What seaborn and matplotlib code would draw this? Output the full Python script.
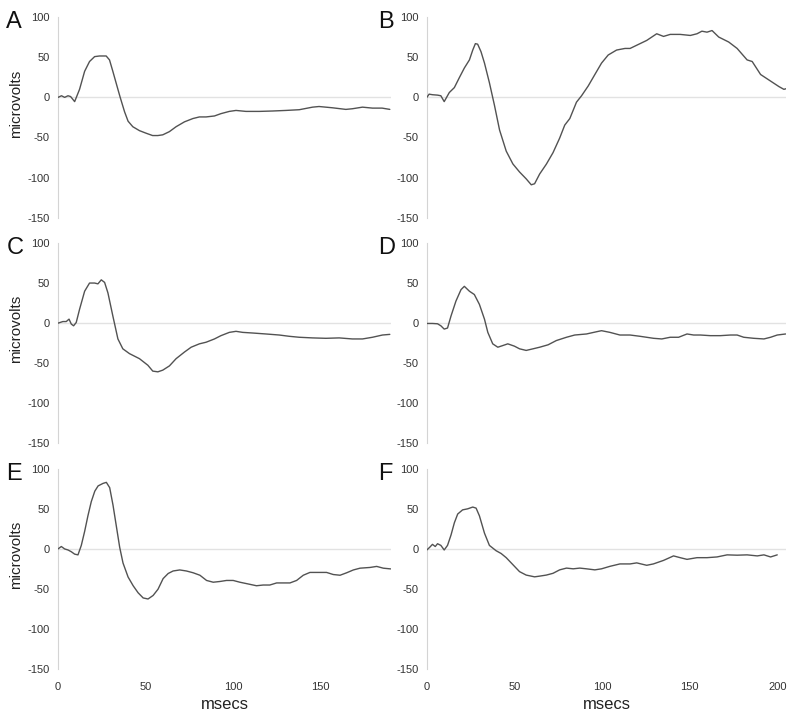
import pandas as pd
import matplotlib.pyplot as plt
import seaborn as sns

# Panel A
a_ms = [0, 2, 3.8, 5.7, 7.2, 9.5, 12.3, 15.2, 18, 20.9, 23.7, 27.5, 29.4, 31.3, 34.2, 35.5, 38, 40,
        42.7, 46.5, 50.3, 54, 57, 59.8, 63.6, 67.4, 72.2, 77, 80.7, 84.5, 89.3, 93, 97.8, 101.6,
        107.3, 114.9, 122.5, 130, 137.7, 145.3, 149, 156.7, 164.3, 168, 173.8, 179.5, 185, 189.4]
a_uv = [0, 2, 0, 2, 1, -5.3, 10, 32.5, 44.7, 50.8, 51.6, 51.6, 46.7, 32.5, 10, 0, -18, -29.7,
        -36.6, -41.5, -44.7, -47.6, -47.6, -46.7, -42.7, -36.6, -30.5, -26.4, -24.4, -24.4, -23.2,
        -20.3, -17.5, -16.3, -17.5, -17.5, -17, -16.3, -15.4, -12.2, -11.4, -13, -15, -14.2, -12.2,
        -13.4, -13.4, -15]

# Panel B
b_ms = [0, 1.3, 3.2, 6.1, 8, 9.9, 12.8, 15.7, 18.5, 21.4, 24.3, 26.2, 27.7, 29, 30.9, 32.9, 35.7,
        38.6, 41.5, 45.3, 49.1, 52.9, 56.7, 59.6, 61.5, 64.4, 68.2, 72, 75.8, 78.7, 81.6, 85.4, 88.3,
        92.1, 95.9, 99.7, 103.5, 108.3, 113.1, 116, 119.8, 125.5, 131.2, 135.1, 138.9, 144.6, 150.4,
        154.2, 157, 159.9, 162.8, 166.6, 172.3, 177.1, 182.8, 185.7, 190.5, 196.2, 201, 203.8, 205.4]
b_uv = [0, 4, 3.3, 2.8, 2, -5.3, 6, 12.2, 24.4, 36.6, 46.7, 59, 67, 66.3, 57, 42.7, 18.3, -10,
        -40.7, -67, -83, -93, -101.6, -109, -107.7, -95.5, -83.3, -69, -50.8, -34.6, -26.4, -6, 2,
        14.2, 28.5, 42.7, 52.8, 59, 61, 61, 65, 71, 79.3, 76, 78.5, 78.5, 77.2, 79.3, 82.5, 81.3,
        83.3, 75.2, 69, 61, 46.7, 44.7, 28.5, 20.3, 13.4, 10, 11]

# Panel C
c_ms = [0, 2.8, 4.7, 6.3, 7.6, 8.9, 10.4, 12.3, 15.2, 18, 20.9, 22.8, 24.7, 26.6, 28.5, 31.3, 34.2,
        37, 40.8, 46.5, 51.3, 54.1, 57, 59.8, 63.6, 67.4, 72.2, 76, 80.7, 84.5, 89.3, 93, 97.8,
        101.6, 105.4, 111.1, 118.7, 126.3, 132, 137.7, 145.3, 152.9, 160.5, 168, 173.8, 179.5,
        185.2, 189.4]
c_uv = [0, 2, 2, 5, -1.2, -3.3, 0.8, 17.2, 39.8, 50, 50, 49, 54, 50.8, 37.7, 9, -19.7, -32, -38,
        -44.3, -52.5, -59.8, -60.7, -58.6, -53.3, -44.3, -36, -30, -25.8, -23.8, -19.7, -15.6,
        -11.5, -10.2, -11.5, -12.3, -13.5, -14.8, -16.4, -17.6, -18.4, -18.9, -18.4, -19.7, -19.7,
        -17.6, -14.8, -14]

# Panel D
d_ms = [0, 3.2, 6.1, 8, 9.9, 11.8, 13.8, 16.6, 19.5, 21.4, 24.3, 27.1, 30, 32.9, 34.8, 37.6, 40.5,
        43.4, 46.2, 50, 52.9, 56.7, 60.6, 64.4, 69.2, 73.9, 79.7, 84.4, 91.1, 96.9, 99.7, 104.5,
        110.2, 116, 121.7, 129.4, 134.1, 138.9, 143.7, 148.5, 152.3, 156.2, 161.8, 167.5, 173.3,
        177.1, 180.9, 186.6, 192.4, 196.2, 200, 204.8]
d_uv = [-0.4, -0.4, -0.8, -3.3, -7.4, -6.1, 9, 27.5, 41.8, 45.9, 39.8, 35.7, 23.4, 4.9, -11.5,
        -25.8, -30, -27.9, -25.8, -28.7, -32, -34, -32, -30, -27, -21.7, -17.6, -14.8, -13.5,
        -10.7, -9.4, -11.5, -14.8, -14.8, -16.4, -18.9, -19.7, -17.6, -17.6, -13.5, -14.8, -14.8,
        -15.6, -15.6, -14.8, -14.8, -17.6, -18.9, -19.7, -17.6, -14.8, -13.5]

# Panel E
e_ms = [0, 1.9, 3.8, 5.7, 7.6, 9.5, 11.4, 13.3, 15.2, 17.1, 19, 21, 22.9, 25.7, 27.6, 29.5, 31.4,
        33.3, 35.2, 37.1, 40, 42.9, 45.7, 48.6, 51.4, 54.3, 57.1, 60, 62.9, 65.7, 69.5, 73.3, 77.1,
        81, 84.8, 88.6, 92.4, 96.2, 100, 103.8, 108.6, 113.3, 117.1, 120.9, 124.8, 128.6, 132.4,
        136.2, 140, 143.8, 147.6, 153.3, 157.1, 161, 164.8, 168.6, 172.4, 178.1, 181.9, 185.7, 189.9]
e_uv = [0, 3, 0, -1.3, -3.5, -6.5, -7.4, 4.4, 21.8, 41.5, 59, 72, 78.6, 81.7, 83, 76.4, 54.6,
        28.4, 2.2, -17.5, -35, -45.9, -54.6, -61.1, -62.4, -58, -50.2, -37, -30.6, -27.5, -26.2,
        -27.5, -29.7, -32.8, -39.3, -41.5, -40.6, -39.3, -39.3, -41.5, -43.7, -45.9, -45, -45,
        -42.4, -42.4, -42.4, -39.3, -32.8, -29.3, -29.3, -29.3, -31.9, -32.8, -29.7, -26.2, -24,
        -23.1, -21.8, -24, -24.9]

# Panel F
f_ms = [0, 1.7, 3.2, 4.8, 6.1, 8, 9.9, 11.8, 13.8, 15.7, 17.6, 20.4, 23.3, 26.2, 28.1, 30, 32.9,
        35.7, 39.5, 42.4, 45.3, 49.1, 52.9, 56.7, 61.5, 64.4, 68.2, 72, 75.8, 79.7, 83.5, 87.3,
        91.1, 95.9, 99.7, 104.5, 110.2, 116, 119.8, 125.5, 129.3, 135.1, 140.8, 144.6, 148.5,
        154.2, 159.9, 165.6, 171.4, 177.1, 182.8, 188.6, 192.4, 196.2, 200]
f_uv = [-1.3, 2.2, 5.7, 3, 6.5, 4.4, -1.3, 4.4, 17.4, 32.6, 43.5, 48.7, 50, 52.2, 50.9, 41.3,
        19.6, 4.4, -2.2, -5.7, -10.9, -19.6, -28.3, -32.6, -34.8, -33.9, -32.6, -30.4, -26.1,
        -23.9, -24.8, -23.9, -24.8, -26.1, -24.8, -21.7, -18.7, -18.7, -17.4, -20.4, -18.7, -14.3,
        -8.7, -10.9, -13, -10.9, -10.9, -10, -7.4, -7.8, -7.4, -8.7, -7.4, -10, -7.4]

panel_labels = ["A", "B", "C", "D", "E", "F"]
y_ticks = [-150, -100, -50, 0, 50, 100]
left_xticks = [0, 50, 100, 150]
right_xticks = [0, 50, 100, 150, 200]

sns.set_style("white")
plt.rcParams["font.family"] = ["Liberation Sans", "DejaVu Sans"]
plt.rcParams["axes.unicode_minus"] = False

fig, axes = plt.subplots(3, 2, figsize=(8, 7.15), dpi=100,
                         gridspec_kw={"width_ratios": [190, 205]})
fig.subplots_adjust(left=0.0725, right=0.9825, top=0.976, bottom=0.064,
                    wspace=0.104, hspace=0.126)

traces = [(a_ms, a_uv), (b_ms, b_uv), (c_ms, c_uv), (d_ms, d_uv), (e_ms, e_uv), (f_ms, f_uv)]

for i, (ax, (ms, uv)) in enumerate(zip(axes.flat, traces)):
    row, col = divmod(i, 2)
    df = pd.DataFrame({"msecs": ms, "microvolts": uv})
    ax.axhline(0, color="#e2e2e2", lw=1, zorder=1)
    sns.lineplot(data=df, x="msecs", y="microvolts", ax=ax, color="#525252", lw=1.0, zorder=3)

    ax.set_ylim(-150, 100)
    ax.set_yticks(y_ticks)
    ax.set_xlim(0, 190 if col == 0 else 205)
    for side in ["top", "right", "bottom"]:
        ax.spines[side].set_visible(False)
    ax.spines["left"].set_color("#d4d4d4")
    ax.tick_params(axis="y", length=3, width=0.8, color="#d4d4d4", labelsize=8,
                   labelcolor="#333333", pad=3)

    if row == 2:
        ax.set_xticks(left_xticks if col == 0 else right_xticks)
        ax.tick_params(axis="x", length=0, labelsize=8, labelcolor="#333333", pad=9)
        ax.set_xlabel("msecs", fontsize=12, color="#222222", labelpad=4)
    else:
        ax.set_xticks([])
        ax.set_xlabel("")

    if col == 0:
        ax.set_ylabel("microvolts", fontsize=11, color="#222222")
        ax.yaxis.set_label_coords(-0.105, 0.57)
        ax.text(-0.155, 0.975, panel_labels[i], transform=ax.transAxes, fontsize=17,
                ha="left", va="center", color="#111111")
    else:
        ax.set_ylabel("")
        ax.text(-0.135, 0.975, panel_labels[i], transform=ax.transAxes, fontsize=17,
                ha="left", va="center", color="#111111")

fig.savefig("out.png", dpi=100)
